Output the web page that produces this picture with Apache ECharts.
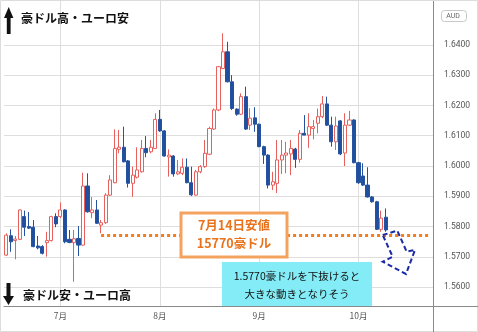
<!DOCTYPE html>
<html><head><meta charset="utf-8">
<script src="https://cdn.jsdelivr.net/npm/echarts@6/dist/echarts.min.js"></script>
<style>html,body{margin:0;padding:0;background:#fff}#c{width:478px;height:332px}</style>
</head><body><div id="c"></div>
<script>
// trading days, 2021-06-15 .. 2021-10-11
const dates = [
'2021-06-15','2021-06-16','2021-06-17','2021-06-18','2021-06-21','2021-06-22','2021-06-23','2021-06-24','2021-06-25','2021-06-28','2021-06-29','2021-06-30',
'2021-07-01','2021-07-02','2021-07-05','2021-07-06','2021-07-07','2021-07-08','2021-07-09','2021-07-12','2021-07-13','2021-07-14','2021-07-15','2021-07-16',
'2021-07-19','2021-07-20','2021-07-21','2021-07-22','2021-07-23','2021-07-26','2021-07-27','2021-07-28','2021-07-29','2021-07-30',
'2021-08-02','2021-08-03','2021-08-04','2021-08-05','2021-08-06','2021-08-09','2021-08-10','2021-08-11','2021-08-12','2021-08-13',
'2021-08-16','2021-08-17','2021-08-18','2021-08-19','2021-08-20','2021-08-23','2021-08-24','2021-08-25','2021-08-26','2021-08-27','2021-08-30','2021-08-31',
'2021-09-01','2021-09-02','2021-09-03','2021-09-06','2021-09-07','2021-09-08','2021-09-09','2021-09-10','2021-09-13','2021-09-14','2021-09-15','2021-09-16','2021-09-17',
'2021-09-20','2021-09-21','2021-09-22','2021-09-23','2021-09-24','2021-09-27','2021-09-28','2021-09-29','2021-09-30',
'2021-10-01','2021-10-04','2021-10-05','2021-10-06','2021-10-07','2021-10-08','2021-10-11'
];
// empty right margin of the chart
const padDates = ['2021-10-12','2021-10-13','2021-10-14','2021-10-15','2021-10-18','2021-10-19','2021-10-20','2021-10-21','2021-10-22','2021-10-25'];

const opens = [1.5706,1.5770,1.5754,1.5758,1.5833,1.5800,1.5798,1.5736,1.5734,1.5747,1.5754,1.5833,
1.5833,1.5855,1.5758,1.5747,1.5761,1.5739,1.5934,1.5846,1.5855,1.5805,1.5813,1.5904,1.5945,1.6055,1.6062,1.6017,1.5943,1.5963,1.5981,1.6058,1.6047,1.6058,
1.6154,1.6116,1.6030,1.6033,1.5974,1.5976,1.5996,1.5945,1.5904,1.5981,1.5998,1.6039,1.6122,1.6185,1.6322,1.6377,1.6278,1.6188,1.6171,1.6229,1.6135,1.6159,
1.6138,1.6064,1.6036,1.5937,1.5943,1.6020,1.6036,1.6040,1.6056,1.6022,1.6108,1.6102,1.6124,1.6141,1.6163,1.6205,1.6135,1.6080,1.6149,1.6043,1.6135,1.6152,
1.6011,1.5967,1.5937,1.5898,1.5882,1.5791,1.5831];
const closes = [1.5772,1.5750,1.5759,1.5855,1.5798,1.5795,1.5734,1.5730,1.5712,1.5754,1.5833,1.5809,
1.5855,1.5750,1.5748,1.5760,1.5739,1.5934,1.5849,1.5855,1.5811,1.5813,1.5904,1.5954,1.6058,1.6062,1.6014,1.5943,1.5970,1.5987,1.6058,1.6044,1.6062,1.6154,
1.6116,1.6033,1.6036,1.5974,1.5981,1.5996,1.5945,1.5905,1.5981,1.5998,1.6042,1.6124,1.6185,1.6328,1.6377,1.6278,1.6190,1.6171,1.6229,1.6122,1.6158,1.6138,
1.6064,1.6036,1.5937,1.5948,1.6020,1.6036,1.6043,1.6058,1.6022,1.6108,1.6102,1.6130,1.6130,1.6163,1.6205,1.6135,1.6080,1.6132,1.6040,1.6135,1.6152,1.6011,
1.5945,1.5937,1.5898,1.5882,1.5791,1.5828,1.5789];
const lows = [1.5703,1.5717,1.5692,1.5756,1.5769,1.5792,1.5732,1.5725,1.5708,1.5701,1.5751,1.5798,
1.5828,1.5745,1.5745,1.5618,1.5703,1.5737,1.5846,1.5828,1.5809,1.5778,1.5809,1.5901,1.5943,1.6042,1.6012,1.5929,1.5898,1.5959,1.5978,1.6029,1.6042,1.6056,
1.6113,1.6031,1.5965,1.5965,1.5970,1.5970,1.5943,1.5901,1.5902,1.5976,1.5994,1.6036,1.6119,1.6181,1.6320,1.6276,1.6185,1.6166,1.6168,1.6119,1.6119,1.6113,
1.6062,1.6007,1.5926,1.5921,1.5911,1.5974,1.5976,1.5970,1.5994,1.6011,1.6102,1.6060,1.6088,1.6108,1.6158,1.6132,1.6064,1.6053,1.6036,1.6000,1.6132,1.6009,
1.5941,1.5934,1.5896,1.5879,1.5789,1.5783,1.5783];
const highs = [1.5778,1.5791,1.5769,1.5857,1.5853,1.5848,1.5822,1.5769,1.5739,1.5783,1.5836,1.5844,
1.5880,1.5857,1.5789,1.5789,1.5802,1.5978,1.5976,1.5898,1.5888,1.5822,1.5910,1.5970,1.6121,1.6119,1.6130,1.6020,1.5998,1.6062,1.6086,1.6099,1.6086,1.6174,
1.6185,1.6119,1.6055,1.6036,1.6020,1.6025,1.6025,1.5998,1.5987,1.6003,1.6086,1.6130,1.6190,1.6330,1.6438,1.6410,1.6300,1.6190,1.6240,1.6262,1.6191,1.6194,
1.6140,1.6067,1.6039,1.5981,1.6086,1.6086,1.6080,1.6086,1.6060,1.6119,1.6168,1.6174,1.6152,1.6190,1.6231,1.6229,1.6163,1.6163,1.6152,1.6174,1.6182,1.6154,
1.6014,1.6009,1.5996,1.5901,1.5885,1.5853,1.5860];

const priceTicks = [1.56,1.57,1.58,1.59,1.60,1.61,1.62,1.63,1.64];
const monthTicks = ['2021-07-01','2021-08-02','2021-09-01','2021-10-01'];
const monthLabels = ['7月','8月','9月','10月'];
const supportDate = '2021-07-14';
const supportLevel = 1.577;

const categories = dates.concat(padDates);
const ohlc = dates.map((d,i)=>[opens[i],closes[i],lows[i],highs[i]]);

const chart = echarts.init(document.getElementById('c'), null, {renderer:'canvas'});
const jp = '"Noto Sans CJK JP", sans-serif';

chart.setOption({
  animation:false,
  backgroundColor:'#ffffff',
  grid:{left:4,right:45,top:0,bottom:26},
  xAxis:{
    type:'category', data:categories, boundaryGap:true,
    axisLine:{show:true,lineStyle:{color:'#8a8a8a',width:1}},
    axisTick:{show:false},
    splitLine:{show:false},
    axisLabel:{
      interval:(idx,val)=>monthTicks.indexOf(val)>=0,
      formatter:(val)=>{const k=monthTicks.indexOf(val);return k>=0?monthLabels[k]:'';},
      color:'#555', fontSize:8.5, margin:6, fontFamily:jp
    }
  },
  yAxis:{
    type:'value', position:'right', min:1.5538, max:1.6548, scale:true,
    axisLine:{show:true,lineStyle:{color:'#8a8a8a',width:1}},
    axisTick:{show:false, customValues:priceTicks},
    splitLine:{show:false},
    axisLabel:{customValues:priceTicks, formatter:(v)=>v.toFixed(4), color:'#555', fontSize:8.5, margin:11, fontFamily:'Roboto, sans-serif'}
  },
  series:[
    {
      type:'line', data:[], silent:true, z:0,
      markLine:{
        silent:true, z:0, symbol:['none','none'], label:{show:false},
        lineStyle:{color:'#dedede',width:1,type:'solid'},
        emphasis:{disabled:true},
        data: monthTicks.map(d=>({xAxis:d})).concat(priceTicks.map(v=>({yAxis:v})))
      }
    },
    {
      type:'candlestick', data:ohlc, barWidth:3.6, z:3,
      itemStyle:{color:'#ffffff', color0:'#1f4f9e', borderColor:'#e8605c', borderColor0:'#25539f', borderWidth:1},
      markLine:{
        silent:true, symbol:['none','none'], label:{show:false},
        lineStyle:{color:'#f07d1e', width:3, type:[3,3]},
        emphasis:{disabled:true},
        data:[[{coord:[supportDate,supportLevel]},{coord:[padDates[padDates.length-1],supportLevel]}]]
      }
    }
  ],
  graphic:[
    {type:'rect', z:50, silent:true, shape:{x:0.5,y:0.5,width:477,height:331}, style:{fill:'none',stroke:'#dcdcdc',lineWidth:1}},
    {type:'line', z:50, silent:true, shape:{x1:433.5,y1:306,x2:433.5,y2:332}, style:{stroke:'#8a8a8a',lineWidth:1}},
    {type:'line', z:50, silent:true, shape:{x1:433,y1:306.5,x2:478,y2:306.5}, style:{stroke:'#8a8a8a',lineWidth:1}},
    {type:'rect', z:50, silent:true, shape:{x:441.5,y:10.5,width:25,height:11,r:3}, style:{fill:'#fff',stroke:'#c8c8c8',lineWidth:1}},
    {type:'text', z:51, silent:true, style:{text:'AUD', x:453, y:16.5, fill:'#666', font:'7px Roboto, sans-serif', textAlign:'center', textVerticalAlign:'middle'}},
    {type:'polygon', z:60, silent:true, shape:{points:[[4,18],[8.7,7],[13.4,18],[10.6,18],[10.6,34],[6.8,34],[6.8,18]]}, style:{fill:'#111'}},
    {type:'text', z:60, silent:true, style:{text:'豪ドル高・ユーロ安', x:21, y:18, fill:'#111', font:'bold 12px '+jp, textVerticalAlign:'middle'}},
    {type:'polygon', z:60, silent:true, shape:{points:[[6.5,283],[10.5,283],[10.5,296],[14,296],[8.5,305],[3,296],[6.5,296]]}, style:{fill:'#111'}},
    {type:'text', z:60, silent:true, style:{text:'豪ドル安・ユーロ高', x:23, y:295, fill:'#111', font:'bold 12px '+jp, textVerticalAlign:'middle'}},
    {type:'rect', z:100, silent:true, shape:{x:181,y:213,width:106,height:44}, style:{fill:'#ffffff',stroke:'#f4a35e',lineWidth:3}},
    {type:'text', z:101, silent:true, style:{text:'7月14日安値', x:234, y:225.5, fill:'#e8731c', font:'bold 12.5px '+jp, textAlign:'center', textVerticalAlign:'middle'}},
    {type:'text', z:101, silent:true, style:{text:'15770豪ドル', x:234, y:243.5, fill:'#e8731c', font:'bold 12.5px '+jp, textAlign:'center', textVerticalAlign:'middle'}},
    {type:'rect', z:100, silent:true, shape:{x:222,y:262,width:150,height:44}, style:{fill:'#84ecf7'}},
    {type:'text', z:101, silent:true, style:{text:'1.5770豪ドルを下抜けると', x:297, y:276, fill:'#111', font:'10.5px '+jp, textAlign:'center', textVerticalAlign:'middle'}},
    {type:'text', z:101, silent:true, style:{text:'大きな動きとなりそう', x:297, y:294, fill:'#111', font:'10.5px '+jp, textAlign:'center', textVerticalAlign:'middle'}},
    {type:'polygon', z:100, silent:true, shape:{points:[[382.7,235],[397.3,230.7],[406.7,251.7],[415,250],[406,274],[382.7,261.7],[392.7,256.7]]},
      style:{fill:'none',stroke:'#1c2aa8',lineWidth:2,lineDash:[5,3]}}
  ]
});
</script>
</body></html>
